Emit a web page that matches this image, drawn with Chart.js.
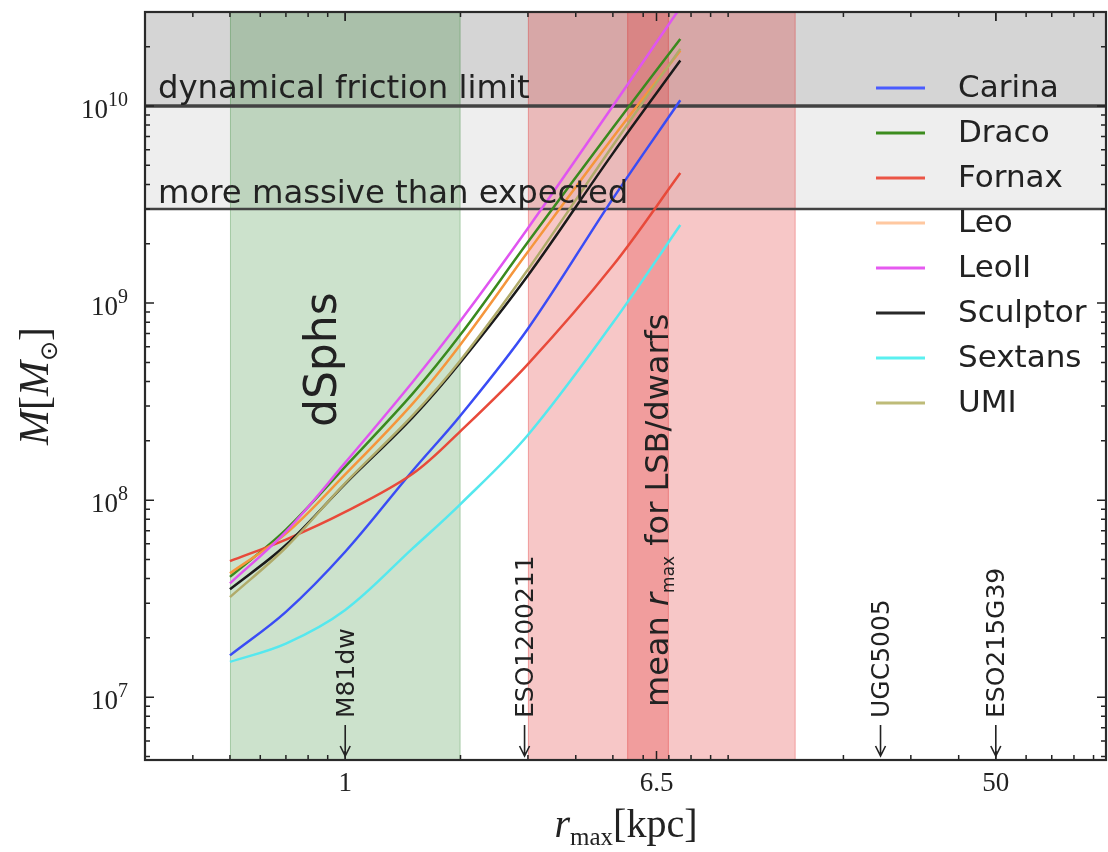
<!DOCTYPE html>
<html>
<head>
<meta charset="utf-8">
<script src="https://cdn.jsdelivr.net/npm/chart.js@4/dist/chart.umd.min.js"></script>
<style>
  html, body { margin: 0; padding: 0; background: #fff; }
  canvas { display: block; }
</style>
</head>
<body>
<canvas id="mass-chart" width="1108" height="852"></canvas>
<script>
// r_max grid (kpc), shared by all galaxy curves
var rmax = [0.5, 0.7, 1, 1.5, 2, 3, 5, 7.5];

// enclosed mass (M_sun)
var carina   = [1.63e7, 2.71e7, 5.47e7, 1.41e8, 2.69e8, 7.41e8, 3.39e9, 1.07e10];
var draco    = [4.08e7, 7.08e7, 1.48e8, 3.47e8, 6.92e8, 2.04e9, 7.76e9, 2.19e10];
var fornax   = [4.90e7, 6.31e7, 8.71e7, 1.36e8, 2.24e8, 4.90e8, 1.55e9, 4.57e9];
var leo      = [4.25e7, 6.76e7, 1.35e8, 3.09e8, 6.17e8, 1.82e9, 6.92e9, 1.91e10];
var leoII    = [3.78e7, 6.92e7, 1.55e8, 3.98e8, 8.13e8, 2.40e9, 1.00e10, 3.16e10];
var sculptor = [3.53e7, 5.92e7, 1.21e8, 2.63e8, 5.01e8, 1.38e9, 5.75e9, 1.70e10];
var sextans  = [1.51e7, 1.87e7, 2.77e7, 5.69e7, 9.55e7, 2.14e8, 7.94e8, 2.49e9];
var umi      = [3.22e7, 5.75e7, 1.22e8, 2.69e8, 5.13e8, 1.48e9, 6.31e9, 1.95e10];

var names  = ['Carina', 'Draco', 'Fornax', 'Leo', 'LeoII', 'Sculptor', 'Sextans', 'UMI'];
var series = [carina, draco, fornax, leo, leoII, sculptor, sextans, umi];

// ticks
var xTicks = [1, 6.5, 50];
var xTickLabels = ['1', '6.5', '50'];
var yTicks = [1e7, 1e8, 1e9, 1e10];
var yTickExp = ['7', '8', '9', '10'];

// shaded regions
var massLimits = [3e9, 1e10];
var dsphRange = [0.5, 2];
var lsbRange = [3, 15];
var lsbMean = [5.45, 7];

// single galaxies marked with arrows
var markerR = [1, 2.94, 25, 50];
var markerNames = ['M81dw', 'ESO1200211', 'UGC5005', 'ESO215G39'];

var lineColors   = ['#3a4cf5', '#3a8a1e', '#e84a3a', '#f5963c', '#e055f0', '#1a1a1a', '#55e8ee', '#b0ab6a'];
var legendColors = ['#4a5cff', '#3c8c1e', '#eb5546', '#ffc8a0', '#e65af0', '#282828', '#5af0f0', '#bebb78'];

function logSteps(min, max) {
  var out = [];
  for (var e = Math.floor(Math.log10(min)); e <= Math.ceil(Math.log10(max)); e++) {
    for (var m = 1; m < 10; m++) {
      var v = m * Math.pow(10, e);
      if (v >= min && v <= max) out.push(v);
    }
  }
  return out;
}

// draw a run of text pieces along the baseline, starting at 0,0
function richText(ctx, parts, align) {
  var total = 0;
  parts.forEach(function (p) { ctx.font = p.f; total += ctx.measureText(p.t).width; });
  var cx = align === 'center' ? -total / 2 : (align === 'right' ? -total : 0);
  ctx.textAlign = 'left';
  ctx.textBaseline = 'alphabetic';
  parts.forEach(function (p) {
    ctx.font = p.f;
    ctx.fillText(p.t, cx, p.dy || 0);
    cx += ctx.measureText(p.t).width;
  });
}

function vText(ctx, parts, px, py, align) {
  ctx.save();
  ctx.translate(px, py);
  ctx.rotate(-Math.PI / 2);
  richText(ctx, parts, align);
  ctx.restore();
}

var decor = {
  id: 'decor',
  beforeDatasetsDraw: function (chart) {
    var ctx = chart.ctx, a = chart.chartArea, x = chart.scales.x, y = chart.scales.y;
    var w = a.right - a.left, h = a.bottom - a.top;
    ctx.save();
    ctx.beginPath();
    ctx.rect(a.left, a.top, w, h);
    ctx.clip();
    var yHi = y.getPixelForValue(massLimits[1]);
    var yLo = y.getPixelForValue(massLimits[0]);
    ctx.fillStyle = '#d5d5d5';
    ctx.fillRect(a.left, a.top, w, yHi - a.top);
    ctx.fillStyle = '#eeeeee';
    ctx.fillRect(a.left, yHi, w, yLo - yHi);

    function vband(r, col) {
      var x0 = x.getPixelForValue(r[0]), x1 = x.getPixelForValue(r[1]);
      ctx.fillStyle = col;
      ctx.fillRect(x0, a.top, x1 - x0, h);
      ctx.strokeStyle = col;
      ctx.lineWidth = 1;
      ctx.strokeRect(x0 + 0.5, a.top, x1 - x0 - 1, h);
    }
    vband(dsphRange, 'rgba(0,110,0,0.2)');
    vband(lsbRange, 'rgba(225,30,30,0.25)');
    vband(lsbMean, 'rgba(225,30,30,0.25)');

    ctx.strokeStyle = '#424242';
    ctx.lineWidth = 3.5;
    ctx.beginPath(); ctx.moveTo(a.left, yHi); ctx.lineTo(a.right, yHi); ctx.stroke();
    ctx.lineWidth = 2.5;
    ctx.beginPath(); ctx.moveTo(a.left, yLo); ctx.lineTo(a.right, yLo); ctx.stroke();
    ctx.restore();
  },
  afterDraw: function (chart) {
    var ctx = chart.ctx, a = chart.chartArea, x = chart.scales.x, y = chart.scales.y;
    ctx.save();
    ctx.fillStyle = '#222';

    // captions of the mass limits
    ctx.font = '32.3px "DejaVu Sans"';
    ctx.textAlign = 'left';
    ctx.textBaseline = 'alphabetic';
    ctx.fillText('dynamical friction limit', a.left + 13, y.getPixelForValue(massLimits[1]) - 8);
    ctx.fillText('more massive than expected', a.left + 13, y.getPixelForValue(massLimits[0]) - 6);

    // band captions
    vText(ctx, [{ t: 'dSphs', f: '44px "DejaVu Sans"' }], x.getPixelForValue(1) - 9, 427);
    vText(ctx, [
      { t: 'mean ', f: '32px "DejaVu Sans"' },
      { t: 'r', f: 'italic 32px "DejaVu Sans"' },
      { t: 'max', f: '17px "DejaVu Sans"', dy: 6 },
      { t: ' for LSB/dwarfs', f: '32px "DejaVu Sans"' }
    ], x.getPixelForValue(lsbMean[1]) - 1, 707);

    // arrows to single galaxies
    ctx.strokeStyle = '#222';
    ctx.lineWidth = 1.6;
    markerR.forEach(function (r, i) {
      var ax = x.getPixelForValue(r);
      ctx.beginPath();
      ctx.moveTo(ax, 725); ctx.lineTo(ax, 756);
      ctx.moveTo(ax - 5, 746); ctx.lineTo(ax, 756); ctx.lineTo(ax + 5, 746);
      ctx.stroke();
      vText(ctx, [{ t: markerNames[i], f: '25px "DejaVu Sans"' }], ax + 8.5, 718);
    });

    // legend
    names.forEach(function (n, i) {
      var ly = 88 + i * 45;
      ctx.strokeStyle = legendColors[i];
      ctx.lineWidth = 3;
      ctx.beginPath(); ctx.moveTo(876, ly); ctx.lineTo(925, ly); ctx.stroke();
      ctx.fillStyle = '#222';
      ctx.font = '31px "DejaVu Sans"';
      ctx.textAlign = 'left';
      ctx.textBaseline = 'middle';
      ctx.fillText(n, 958, ly + 1);
    });

    // inward ticks on all four sides
    ctx.strokeStyle = '#222';
    ctx.lineWidth = 1.5;
    logSteps(x.min, x.max).concat(xTicks).forEach(function (v) {
      var len = xTicks.indexOf(v) >= 0 ? 9 : 5, px = x.getPixelForValue(v);
      ctx.beginPath();
      ctx.moveTo(px, a.bottom); ctx.lineTo(px, a.bottom - len);
      ctx.moveTo(px, a.top); ctx.lineTo(px, a.top + len);
      ctx.stroke();
    });
    logSteps(y.min, y.max).forEach(function (v) {
      var len = yTicks.indexOf(v) >= 0 ? 9 : 5, py = y.getPixelForValue(v);
      ctx.beginPath();
      ctx.moveTo(a.left, py); ctx.lineTo(a.left + len, py);
      ctx.moveTo(a.right, py); ctx.lineTo(a.right - len, py);
      ctx.stroke();
    });

    // frame
    ctx.lineWidth = 2.2;
    ctx.strokeStyle = '#2a2a2a';
    ctx.strokeRect(a.left, a.top, a.right - a.left, a.bottom - a.top);

    // y tick labels as 10^n
    ctx.fillStyle = '#222';
    yTicks.forEach(function (v, i) {
      ctx.save();
      ctx.translate(a.left - 17, y.getPixelForValue(v) + 12);
      richText(ctx, [
        { t: '10', f: '27px "Liberation Serif"' },
        { t: yTickExp[i], f: '20px "Liberation Serif"', dy: -12 }
      ], 'right');
      ctx.restore();
    });

    // axis titles
    vText(ctx, [
      { t: 'M', f: 'italic 42px "Liberation Serif"' },
      { t: '[', f: '42px "Liberation Serif"' },
      { t: 'M', f: 'italic 42px "Liberation Serif"' },
      { t: '⊙', f: '24px "DejaVu Sans"', dy: 9 },
      { t: ']', f: '42px "Liberation Serif"' }
    ], 48, 386, 'center');
    ctx.save();
    ctx.translate(626, 837);
    richText(ctx, [
      { t: 'r', f: 'italic 40px "Liberation Serif"' },
      { t: 'max', f: '25px "Liberation Serif"', dy: 8 },
      { t: '[kpc]', f: '40px "Liberation Serif"' }
    ], 'center');
    ctx.restore();
    ctx.restore();
  }
};

new Chart(document.getElementById('mass-chart'), {
  type: 'line',
  data: {
    datasets: names.map(function (n, i) {
      return {
        label: n,
        data: rmax.map(function (r, j) { return { x: r, y: series[i][j] }; }),
        borderColor: lineColors[i],
        backgroundColor: lineColors[i],
        borderWidth: 2.5,
        pointRadius: 0,
        tension: 0.35,
        fill: false,
        order: names.length - i
      };
    })
  },
  options: {
    responsive: false,
    animation: false,
    devicePixelRatio: 1,
    layout: { padding: { top: 12, right: 2, left: 0, bottom: 0 } },
    plugins: { legend: { display: false }, tooltip: { enabled: false } },
    scales: {
      x: {
        type: 'logarithmic',
        min: 0.3,
        max: 97,
        afterBuildTicks: function (s) { s.ticks = xTicks.map(function (v) { return { value: v }; }); },
        afterFit: function (s) { s.height = 92; s.paddingLeft = 0; s.paddingRight = 0; },
        ticks: {
          autoSkip: false,
          maxRotation: 0,
          padding: 8,
          color: '#222',
          font: { family: 'Liberation Serif', size: 27 },
          callback: function (v, i) { return xTickLabels[i]; }
        },
        grid: { display: false, drawTicks: false },
        border: { display: false }
      },
      y: {
        type: 'logarithmic',
        min: 4.8e6,
        max: 3e10,
        afterBuildTicks: function (s) { s.ticks = yTicks.map(function (v) { return { value: v }; }); },
        afterFit: function (s) { s.width = 145; s.paddingTop = 0; s.paddingBottom = 0; },
        ticks: { display: false },
        grid: { display: false, drawTicks: false },
        border: { display: false }
      }
    }
  },
  plugins: [decor]
});
</script>
</body>
</html>
